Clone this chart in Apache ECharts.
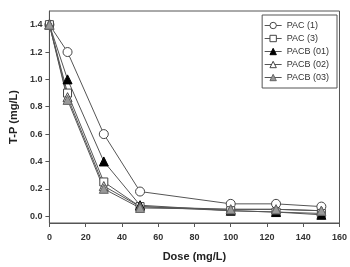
<!DOCTYPE html>
<html>
<head>
<meta charset="utf-8">
<script src="https://cdn.jsdelivr.net/npm/echarts@6/dist/echarts.min.js"></script>
<style>
  html, body { margin: 0; padding: 0; background: #fff; }
  #chart { width: 350px; height: 267px; }
</style>
</head>
<body>
<div id="chart"></div>
<script>
// dose (mg/L)
var doseData = [0, 10, 30, 50, 100, 125, 150];
// T-P (mg/L) for each coagulant
var pac1Data = [1.4, 1.2, 0.6, 0.18, 0.09, 0.09, 0.07];
var pac3Data = [1.4, 0.9, 0.25, 0.07, 0.04, 0.03, 0.02];
var pacb01Data = [1.4, 1.0, 0.4, 0.08, 0.04, 0.03, 0.01];
var pacb02Data = [1.4, 0.87, 0.22, 0.07, 0.05, 0.05, 0.04];
var pacb03Data = [1.4, 0.85, 0.2, 0.06, 0.05, 0.05, 0.04];
var yTicks = [0, 0.2, 0.4, 0.6, 0.8, 1.0, 1.2, 1.4];

function pairs(ys) {
	return doseData.map(function (x, i) { return [x, ys[i]]; });
}

function makeSeries(name, ys, symbol, fill, border, size) {
	return {
		name: name,
		type: 'line',
		data: pairs(ys),
		symbol: symbol,
		symbolSize: size,
		showAllSymbol: true,
		lineStyle: { color: '#555', width: 1 },
		itemStyle: { color: fill, borderColor: border, borderWidth: 1 },
		emphasis: { disabled: true },
		animation: false
	};
}

var axisFont = { fontFamily: 'Liberation Sans, Arial, sans-serif', fontWeight: 'bold', fontSize: 9, color: '#333' };

var myChart = echarts.init(document.getElementById('chart'));
var option = {
	animation: false,
	grid: {
		left: 44, right: 9, top: 11, bottom: 43,
		show: true, borderColor: '#555', borderWidth: 1
	},
	legend: {
		orient: 'vertical',
		right: 13, top: 15,
		itemWidth: 17, itemHeight: 8, itemGap: 4,
		padding: [6, 8, 6, 2],
		borderColor: '#555', borderWidth: 1,
		lineStyle: { width: 1, color: '#555' },
		itemStyle: { borderWidth: 1 },
		textStyle: { fontFamily: 'Liberation Sans, Arial, sans-serif', fontSize: 9, color: '#333' },
		data: ['PAC (1)', 'PAC (3)', 'PACB (01)', 'PACB (02)', 'PACB (03)']
	},
	xAxis: {
		type: 'value',
		min: 0, max: 160, interval: 20,
		name: 'Dose (mg/L)',
		nameLocation: 'middle',
		nameGap: 28,
		nameTextStyle: { fontFamily: 'Liberation Sans, Arial, sans-serif', fontWeight: 'bold', fontSize: 11, color: '#222' },
		axisLine: { onZero: false, lineStyle: { color: '#555' } },
		axisTick: { inside: false, length: 4, lineStyle: { color: '#555' } },
		axisLabel: Object.assign({ margin: 10 }, axisFont),
		splitLine: { show: false }
	},
	yAxis: {
		type: 'value',
		min: -0.05, max: 1.5,
		name: 'T-P (mg/L)',
		nameLocation: 'middle',
		nameGap: 27,
		nameRotate: 90,
		nameTextStyle: { fontFamily: 'Liberation Sans, Arial, sans-serif', fontWeight: 'bold', fontSize: 11, color: '#222' },
		axisLine: { show: true, onZero: false, lineStyle: { color: '#555' } },
		axisTick: { show: true, length: 4, customValues: yTicks, lineStyle: { color: '#555' } },
		axisLabel: Object.assign({
			margin: 7,
			customValues: yTicks,
			formatter: function (v) { return v.toFixed(1); }
		}, axisFont),
		splitLine: { show: false }
	},
	series: [
		makeSeries('PAC (1)', pac1Data, 'circle', '#fff', '#444', 9),
		makeSeries('PAC (3)', pac3Data, 'rect', '#fff', '#444', 8),
		makeSeries('PACB (01)', pacb01Data, 'triangle', '#000', '#000', 9),
		makeSeries('PACB (02)', pacb02Data, 'triangle', '#fff', '#444', 9),
		makeSeries('PACB (03)', pacb03Data, 'triangle', '#999', '#666', 9)
	]
};
myChart.setOption(option);
</script>
</body>
</html>
